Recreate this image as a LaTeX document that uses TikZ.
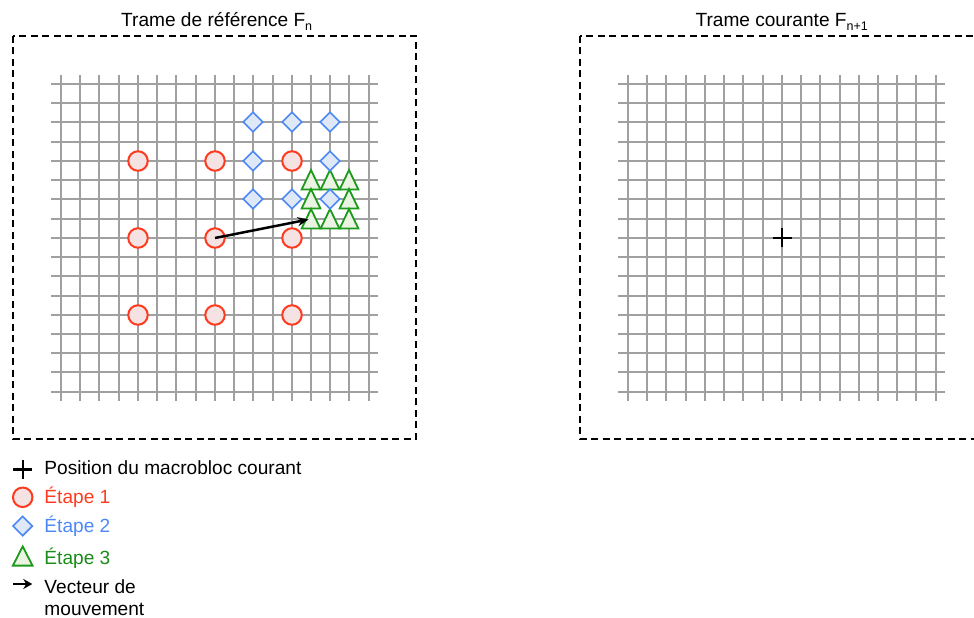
\documentclass[tikz,border=0pt]{standalone}
\usepackage{fontspec}
\setmainfont{Liberation Sans}
\usetikzlibrary{shapes.geometric,arrows.meta}
\definecolor{gridgray}{HTML}{A0A0A0}
\definecolor{redS}{HTML}{FF3B1F}
\definecolor{redF}{HTML}{F5E3E3}
\definecolor{blueS}{HTML}{4D88F5}
\definecolor{blueF}{HTML}{DFE8F6}
\definecolor{greenS}{HTML}{1C9A1C}
\definecolor{greenF}{HTML}{EBF3E3}
\begin{document}
\begin{tikzpicture}[x=1bp,y=-1bp,
  gridline/.style={gridgray,line width=2bp},
  frame/.style={draw=black,line width=1.8bp,dash pattern=on 7bp off 4.5bp},
  etape1/.style={circle,draw=redS,fill=redF,line width=2bp,minimum size=19.5bp,inner sep=0pt},
  etape2/.style={diamond,draw=blueS,fill=blueF,line width=1.6bp,minimum size=20bp,inner sep=0pt},
  etape3/.style={draw=greenS,fill=greenF,line width=1.8bp},
  vecteur/.style={line width=2.5bp,-{Stealth[length=11bp,width=9bp]}},
  croix/.style={line width=2.4bp},
  titre/.style={font=\fontsize{19.1bp}{22bp}\selectfont,anchor=base,inner sep=0pt},
  legende/.style={font=\fontsize{19.1bp}{22.4bp}\selectfont,anchor=base west,inner sep=0pt},
]
\clip (0,0) rectangle (974,618);

% frames
\draw[frame] (13,36) rectangle (416,439);
\draw[frame] (580,36) rectangle (983,439);

% grids
\foreach \o in {0,567} {
  \foreach \i in {0,...,16} {
    \draw[gridline] ({\o+round(61+\i*19.23)},75) -- ({\o+round(61+\i*19.23)},401);
    \draw[gridline] (\o+51,{round(84+\i*19.23)}) -- (\o+378,{round(84+\i*19.23)});
  }
}

% titles
\node[titre] (titreA) at (216.7,26.7) {Trame de référence F\raisebox{-4bp}{\fontsize{12.5bp}{12.5bp}\selectfont n}};
\node[titre] (titreB) at (781.7,26.7) {Trame courante F\raisebox{-4bp}{\fontsize{12.5bp}{12.5bp}\selectfont n+1}};

% step 3 triangles
\foreach \i/\j in {13/5,14/5,15/5,13/6,15/6,13/7,14/7,15/7} {
  \coordinate (t-\i-\j) at ({round(61+\i*19.23)},{round(84+\j*19.23)});
  \draw[etape3] (t-\i-\j) +(0,-10) -- +(9.4,9.6) -- +(-9.4,9.6) -- cycle;
}

% step 2 diamonds
\foreach \i/\j in {10/2,12/2,14/2,10/4,14/4,10/6,12/6,14/6} {
  \node[etape2] (d-\i-\j) at ({round(61+\i*19.23)},{round(84+\j*19.23)}) {};
}

% step 1 circles
\foreach \i in {4,8,12} {
  \foreach \j in {4,8,12} {
    \node[etape1] (c-\i-\j) at ({round(61+\i*19.23)},{round(84+\j*19.23)}) {};
  }
}

% motion vector
\draw[vecteur,shorten >=2.5bp] (c-8-8.center) -- (t-13-7);

% current macroblock
\coordinate (mb) at (782,238);
\draw[croix] ([xshift=-9.5bp]mb) -- ([xshift=9.5bp]mb);
\draw[croix] ([yshift=-9.5bp]mb) -- ([yshift=9.5bp]mb);

% legend
\coordinate (lp) at (22.7,469.3);
\draw[croix] ([xshift=-9.5bp]lp) -- ([xshift=9.5bp]lp);
\draw[croix] ([yshift=-9.5bp]lp) -- ([yshift=9.5bp]lp);
\node[legende] (lt0) at (44.3,474.3) {Position du macrobloc courant};

\node[etape1] (lc) at (22.7,497.3) {};
\node[legende,text=redS] (lt1) at (44.3,503.3) {Étape 1};

\node[etape2] (ld) at (22.7,526) {};
\node[legende,text=blueS] (lt2) at (44.3,532.3) {Étape 2};

\coordinate (ltr) at (22.7,556);
\draw[etape3] (ltr) +(0,-9.6) -- +(9.8,9.6) -- +(-9.8,9.6) -- cycle;
\node[legende,text=greenS!90!black] (lt3) at (44.3,564) {Étape 3};

\coordinate (lvA) at (13.3,584);
\coordinate (lvB) at (32.3,584);
\draw[line width=2.4bp,-{Stealth[length=9bp,width=10bp]}] (lvA) -- (lvB);
\node[legende,align=left,anchor=north west] (lt4) at (44.3,579.5) {Vecteur de\\mouvement};
\end{tikzpicture}
\end{document}
